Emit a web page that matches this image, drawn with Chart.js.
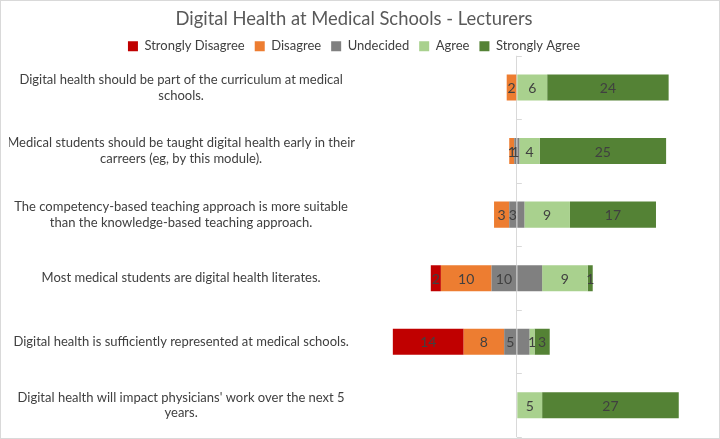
<!doctype html>
<html>
    <head>
        <meta charset="UTF-8" />
        <title>Digital Health at Medical Schools - Lecturers</title>
        <script src="https://cdn.jsdelivr.net/npm/chart.js"></script>
        <style>
            body { margin: 0; background: #fff; }
            #wrap { width: 720px; height: 439px; box-sizing: border-box; border: 1px solid #d9d9d9; position: relative; }
        </style>
    </head>

    <body>
        <div id="wrap"><canvas id="myChart"></canvas></div>

        <script>
        // Statements (y axis categories)
        var statements = [
            ['Digital health should be part of the curriculum at medical', 'schools.'],
            ['Medical students should be taught digital health early in their', 'carreers (eg, by this module).'],
            ['The competency-based teaching approach is more suitable', 'than the knowledge-based teaching approach.'],
            'Most medical students are digital health literates.',
            'Digital health is sufficiently represented at medical schools.',
            ['Digital health will impact physicians\' work over the next 5', 'years.']
        ];

        // Answer counts per statement
        var stronglyDisagree = [0, 0, 0, 2, 14, 0];
        var disagree         = [2, 1, 3, 10, 8, 0];
        var undecided        = [0, 1, 3, 10, 5, 0];
        var agree            = [6, 4, 9, 9, 1, 5];
        var stronglyAgree    = [24, 25, 17, 1, 3, 27];

        var textColor = '#404040';
        var fontFamily = 'Lato, "Noto Sans", sans-serif';

        function neg(arr) { return arr.map(function (v) { return -v; }); }
        function half(arr, sign) { return arr.map(function (v) { return sign * v / 2; }); }

        // Datasets listed in stacking order (outward from zero); legend sorted separately
        var datasets = [
            { label: 'Undecided', data: half(undecided, -1), counts: undecided, backgroundColor: '#808080', legendPos: 2 },
            { label: 'Undecided', data: half(undecided, 1), counts: null, backgroundColor: '#808080', legendPos: -1 },
            { label: 'Disagree', data: neg(disagree), counts: disagree, backgroundColor: '#ED7D31', legendPos: 1 },
            { label: 'Agree', data: agree, counts: agree, backgroundColor: '#A9D18E', legendPos: 3 },
            { label: 'Strongly Disagree', data: neg(stronglyDisagree), counts: stronglyDisagree, backgroundColor: '#C00000', legendPos: 0 },
            { label: 'Strongly Agree', data: stronglyAgree, counts: stronglyAgree, backgroundColor: '#548235', legendPos: 4 }
        ];
        datasets.forEach(function (d) {
            d.barPercentage = 0.82;
            d.categoryPercentage = 0.5;
            d.borderWidth = 0;
        });

        // Draws the counts in the middle of each segment
        var segmentLabels = {
            id: 'segmentLabels',
            afterDatasetsDraw: function (chart) {
                var ctx = chart.ctx;
                ctx.save();
                ctx.font = '14px ' + fontFamily;
                ctx.fillStyle = textColor;
                ctx.textAlign = 'center';
                ctx.textBaseline = 'middle';
                chart.data.datasets.forEach(function (ds, i) {
                    if (!ds.counts) return;
                    chart.getDatasetMeta(i).data.forEach(function (bar, j) {
                        var v = ds.counts[j];
                        if (!v) return;
                        var p = bar.getProps(['x', 'y', 'base'], true);
                        ctx.fillText(String(v), (p.x + p.base) / 2, p.y + 1);
                    });
                });
                ctx.restore();
            }
        };

        // Small tick marks on the zero line between categories
        var zeroTicks = {
            id: 'zeroTicks',
            afterDatasetsDraw: function (chart) {
                var ctx = chart.ctx;
                var x0 = chart.scales.x.getPixelForValue(0);
                var ys = chart.scales.y;
                ctx.save();
                ctx.strokeStyle = '#d9d9d9';
                ctx.lineWidth = 1;
                for (var k = 0; k <= statements.length; k++) {
                    var y = Math.round(ys.getPixelForValue(k - 0.5)) + 0.5;
                    ctx.beginPath();
                    ctx.moveTo(x0, y);
                    ctx.lineTo(x0 + 5, y);
                    ctx.stroke();
                }
                ctx.restore();
            }
        };

        var ctx = document.getElementById('myChart').getContext('2d');
        var myChart = new Chart(ctx, {
            type: 'bar',
            data: { labels: statements, datasets: datasets },
            plugins: [segmentLabels, zeroTicks],
            options: {
                indexAxis: 'y',
                responsive: true,
                maintainAspectRatio: false,
                animation: false,
                layout: { padding: { left: 8, right: 20, top: 2, bottom: 1 } },
                plugins: {
                    title: {
                        display: true,
                        text: 'Digital Health at Medical Schools - Lecturers',
                        color: '#595959',
                        font: { family: fontFamily, size: 18.4, weight: 'normal' },
                        padding: { top: 4.7, bottom: 0 }
                    },
                    legend: {
                        position: 'top',
                        maxHeight: 26,
                        labels: {
                            color: textColor,
                            font: { family: fontFamily, size: 13 },
                            boxWidth: 10,
                            boxHeight: 10,
                            padding: 10,
                            filter: function (item, data) {
                                return data.datasets[item.datasetIndex].legendPos >= 0;
                            },
                            sort: function (a, b, data) {
                                return data.datasets[a.datasetIndex].legendPos - data.datasets[b.datasetIndex].legendPos;
                            }
                        }
                    },
                    tooltip: { enabled: false }
                },
                scales: {
                    x: {
                        stacked: true,
                        min: -30,
                        max: 36,
                        border: { display: false },
                        afterFit: function (scale) { scale.height = 0; scale.paddingLeft = 0; scale.paddingRight = 0; },
                        ticks: { display: false, stepSize: 1 },
                        grid: {
                            drawTicks: false,
                            color: function (c) { return c.tick && c.tick.value === 0 ? '#d9d9d9' : 'rgba(0,0,0,0)'; }
                        }
                    },
                    y: {
                        stacked: true,
                        border: { display: false },
                        grid: { display: false },
                        afterFit: function (scale) {
                            scale.width = 356;
                            scale.paddingTop = 0;
                            scale.paddingBottom = 0;
                        },
                        ticks: {
                            crossAlign: 'center',
                            color: textColor,
                            font: { family: fontFamily, size: 13 },
                            padding: 2
                        }
                    }
                }
            }
        });
        </script>
    </body>
</html>
